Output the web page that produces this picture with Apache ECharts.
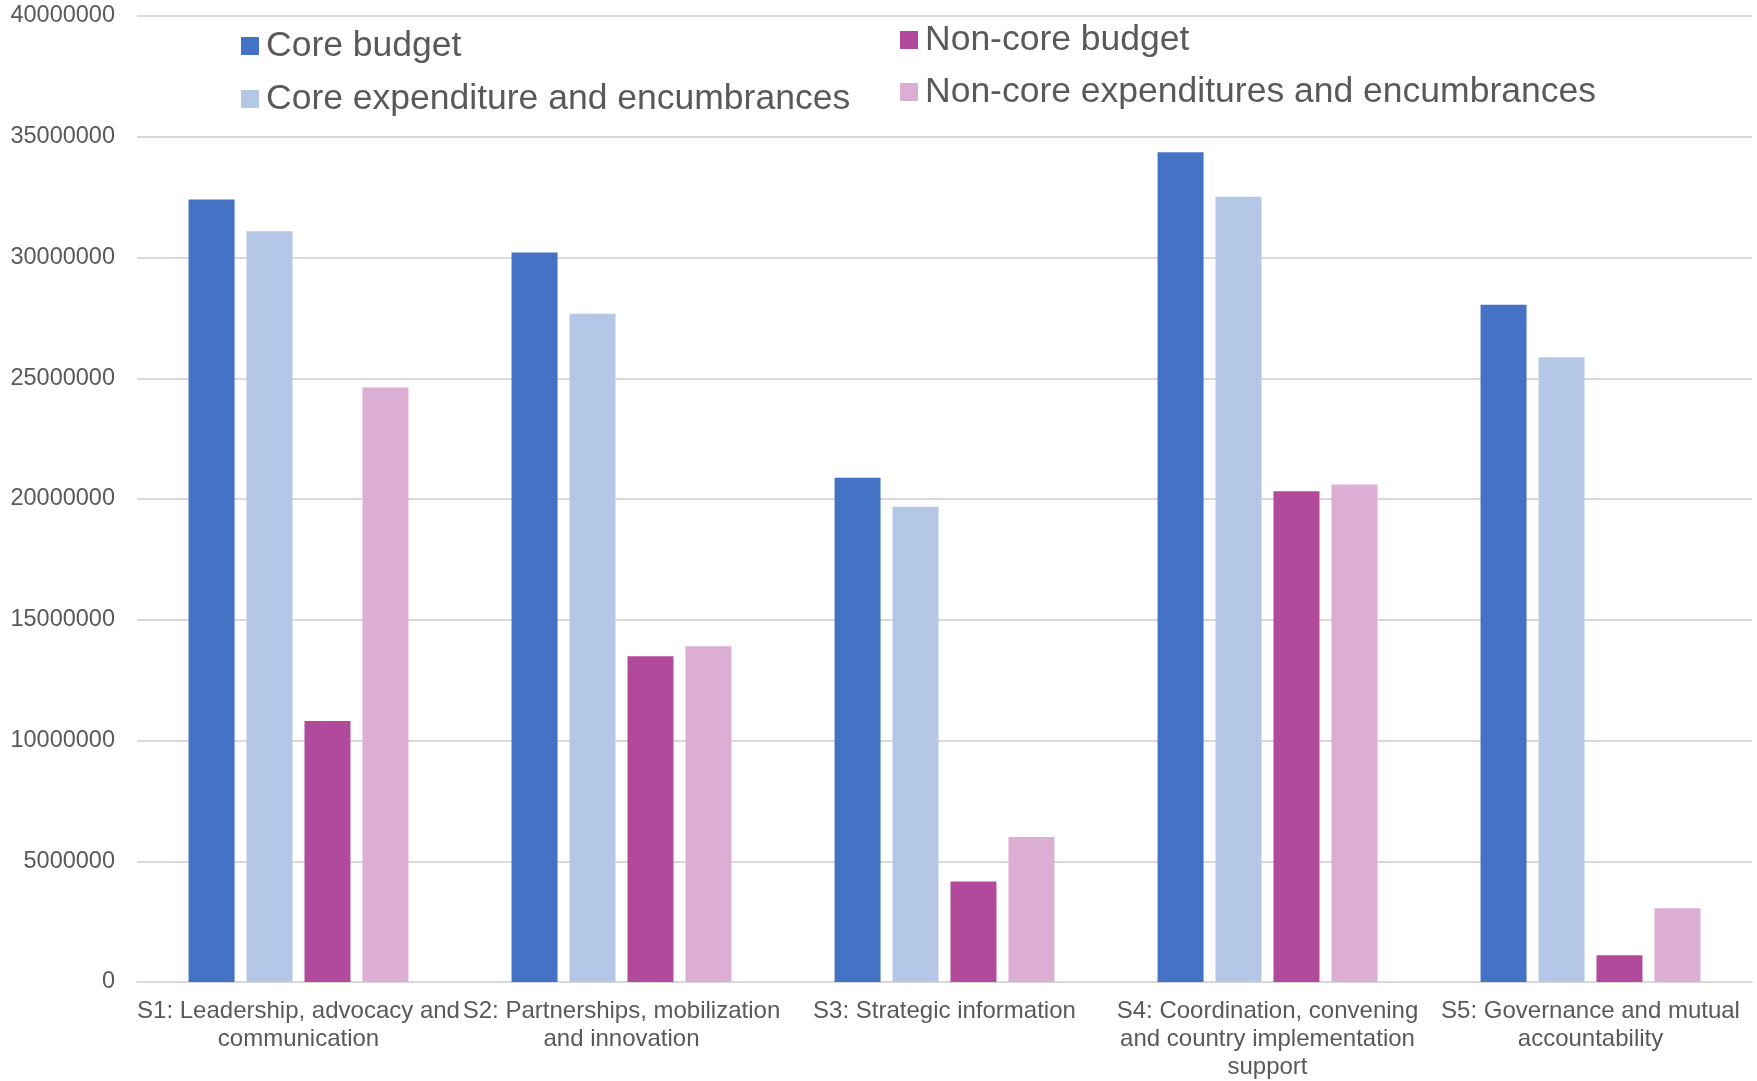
<!DOCTYPE html>
<html>
<head>
<meta charset="utf-8">
<script src="https://cdn.jsdelivr.net/npm/echarts@6/dist/echarts.min.js"></script>
<style>
html,body{margin:0;padding:0;background:#fff;}
#chart{width:1757px;height:1081px;}
</style>
</head>
<body>
<div id="chart"></div>
<script>
const categories = [
  "S1: Leadership, advocacy and\ncommunication",
  "S2: Partnerships, mobilization\nand innovation",
  "S3: Strategic information",
  "S4: Coordination, convening\nand country implementation\nsupport",
  "S5: Governance and mutual\naccountability"
];
const seriesNames = [
  "Core budget",
  "Core expenditure and encumbrances",
  "Non-core budget",
  "Non-core expenditures and encumbrances"
];
const coreBudget = [32400000, 30210000, 20880000, 34360000, 28040000];
const coreExpenditure = [31090000, 27670000, 19680000, 32520000, 25870000];
const nonCoreBudget = [10810000, 13490000, 4160000, 20320000, 1110000];
const nonCoreExpenditure = [24620000, 13900000, 6000000, 20600000, 3050000];
const yTicks = { min: 0, max: 40000000, interval: 5000000 };

const colors = ["#4472C4", "#B4C7E7", "#B24A9B", "#DDAED4"];
const values = [coreBudget, coreExpenditure, nonCoreBudget, nonCoreExpenditure];

const chart = echarts.init(document.getElementById('chart'));
const fontFamily = "'Liberation Sans', Arial, sans-serif";
const legendText = { fontSize: 35.5, color: '#595959', lineHeight: 40, padding: [0,0,0,2] };
chart.setOption({
  animation: false,
  backgroundColor: '#ffffff',
  color: colors,
  textStyle: { fontFamily: fontFamily },
  grid: { left: 137, right: 5, top: 16, bottom: 96, containLabel: false },
  legend: [
    {
      data: [seriesNames[0], seriesNames[1]],
      orient: 'vertical', left: 241, top: 26,
      itemWidth: 18, itemHeight: 18, itemGap: 13,
      icon: 'rect',
      textStyle: legendText,
      padding: 0
    },
    {
      data: [seriesNames[2], seriesNames[3]],
      orient: 'vertical', left: 900, top: 20,
      itemWidth: 18, itemHeight: 18, itemGap: 12,
      icon: 'rect',
      textStyle: legendText,
      padding: 0
    }
  ],
  xAxis: {
    type: 'category',
    data: categories,
    axisLine: { show: true, lineStyle: { color: '#D9D9D9', width: 2 } },
    axisTick: { show: false },
    axisLabel: { interval: 0, fontSize: 24, color: '#595959', lineHeight: 28, margin: 15, align: 'center' }
  },
  yAxis: {
    type: 'value',
    min: yTicks.min, max: yTicks.max, interval: yTicks.interval,
    axisLine: { show: false },
    axisTick: { show: false },
    axisLabel: { fontSize: 23.5, color: '#595959', margin: 22, formatter: v => String(v) },
    splitLine: { lineStyle: { color: '#D9D9D9', width: 2 } }
  },
  series: seriesNames.map((n, i) => ({
    name: n,
    type: 'bar',
    data: values[i],
    barWidth: 46,
    barGap: '26%',
    itemStyle: { color: colors[i] }
  }))
});
</script>
</body>
</html>
